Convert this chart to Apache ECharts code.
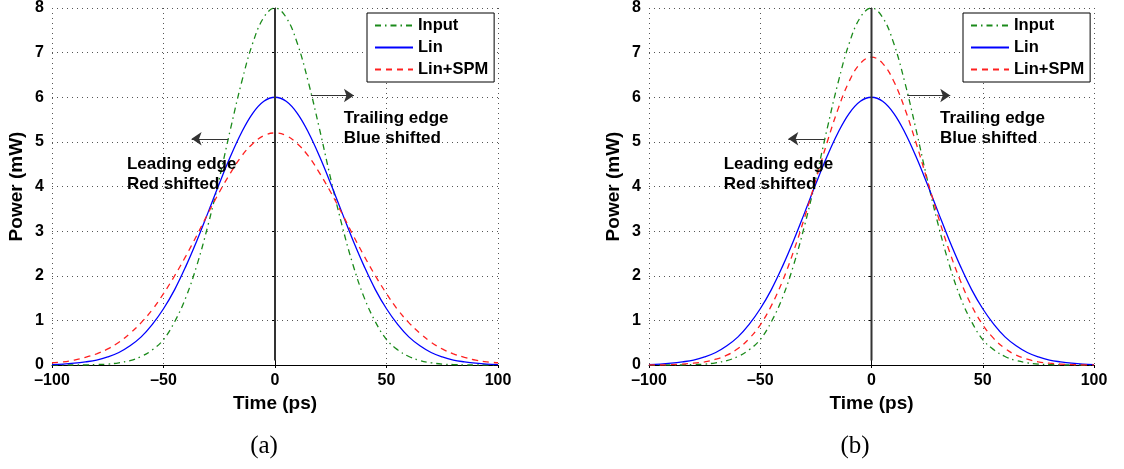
<!DOCTYPE html>
<html><head><meta charset="utf-8">
<script src="https://cdn.jsdelivr.net/npm/echarts@6/dist/echarts.min.js"></script>
<style>html,body{margin:0;padding:0;background:#fff}#c{width:1124px;height:469px}</style>
</head><body><div id="c"></div>
<script>
// ---- data ----
const times = [-100,-95,-90,-85,-80,-75,-70,-65,-60,-55,-50,-45,-40,-35,-30,-25,-20,-15,-10,-5,0,5,10,15,20,25,30,35,40,45,50,55,60,65,70,75,80,85,90,95,100];
const inputPower = [0.00,0.00,0.00,0.00,0.01,0.02,0.05,0.10,0.19,0.34,0.57,0.97,1.51,2.24,3.14,4.17,5.28,6.33,7.21,7.79,8.00,7.79,7.21,6.33,5.28,4.17,3.14,2.24,1.51,0.97,0.57,0.34,0.19,0.10,0.05,0.02,0.01,0.00,0.00,0.00,0.00];
const linPower = [0.01,0.02,0.04,0.07,0.11,0.18,0.28,0.43,0.63,0.91,1.26,1.69,2.21,2.79,3.42,4.06,4.67,5.21,5.64,5.91,6.00,5.91,5.64,5.21,4.67,4.06,3.42,2.79,2.21,1.69,1.26,0.91,0.63,0.43,0.28,0.18,0.11,0.07,0.04,0.02,0.01];
const spmPowerA = [0.05,0.07,0.11,0.17,0.25,0.36,0.51,0.71,0.95,1.24,1.60,2.00,2.44,2.91,3.40,3.87,4.30,4.68,4.96,5.14,5.20,5.14,4.96,4.68,4.30,3.87,3.40,2.91,2.44,2.00,1.60,1.24,0.95,0.71,0.51,0.36,0.25,0.17,0.11,0.07,0.05];
const spmPowerB = [0.00,0.00,0.01,0.02,0.04,0.07,0.13,0.22,0.37,0.59,0.90,1.33,1.88,2.55,3.32,4.15,4.98,5.74,6.36,6.76,6.90,6.76,6.36,5.74,4.98,4.15,3.32,2.55,1.88,1.33,0.90,0.59,0.37,0.22,0.13,0.07,0.04,0.02,0.01,0.00,0.00];
const seriesNames = ['Input','Lin','Lin+SPM'];
const centerLine = [[0,0.1],[0,8]];
const leadingText = 'Leading edge\nRed shifted';
const trailingText = 'Trailing edge\nBlue shifted';
const leadingPos = [-66.4, 4.28];
const trailingPos = [30.8, 5.30];
const leadingArrow = [[-21.0,5.07],[-37.4,5.07]];
const trailingArrow = [[16.1,6.04],[35.4,6.04]];
const captions = ['(a)','(b)'];
const xLabelTitle = 'Time (ps)';
const yLabelTitle = 'Power (mW)';

// ---- chart ----
const FONT = '"Liberation Sans", Arial, Helvetica, sans-serif';
const pairs = (ys) => times.map((t,i)=>[t, ys[i]]);
const chart = echarts.init(document.getElementById('c'), null, {renderer:'canvas'});

const grids = [
  {left:52, top:6, width:446, height:359},
  {left:649, top:6, width:445, height:359}
];
function xAxis(i){
  return {
    type:'value', gridIndex:i, min:-100, max:100, interval:50,
    name:xLabelTitle, nameLocation:'middle', nameGap:28,
    nameTextStyle:{fontFamily:FONT, fontWeight:'bold', fontSize:19, color:'#000'},
    axisLine:{onZero:false, lineStyle:{color:'#000', width:1}},
    axisTick:{show:true, length:3, lineStyle:{color:'#000'}},
    axisLabel:{margin:8, fontFamily:FONT, fontWeight:'bold', fontSize:16, color:'#000',
      formatter:(v)=> v<0 ? '\u2013'+Math.abs(v) : String(v)},
    splitLine:{show:true, lineStyle:{color:'#555', width:1, type:[1,4]}}
  };
}
function yAxis(i){
  return {
    type:'value', gridIndex:i, min:0, max:8, interval:1,
    name:yLabelTitle, nameLocation:'middle', nameGap:26,
    nameTextStyle:{fontFamily:FONT, fontWeight:'bold', fontSize:19, color:'#000'},
    axisLine:{show:true, lineStyle:{color:'#000', width:1}},
    axisTick:{show:true, length:3, lineStyle:{color:'#000'}},
    axisLabel:{margin:8, fontFamily:FONT, fontWeight:'bold', fontSize:16, color:'#000'},
    splitLine:{show:true, lineStyle:{color:'#555', width:1, type:[1,4]}}
  };
}
const styles = [
  {color:'#1a8a1a', type:[6,4,1.5,4]},
  {color:'#0000ff', type:'solid'},
  {color:'#ff2020', type:[6,5]}
];
function curves(i, spm){
  const vals = [inputPower, linPower, spm];
  const out = vals.map((v,k)=>({
    name:seriesNames[k], type:'line', xAxisIndex:i, yAxisIndex:i,
    data:pairs(v), symbol:'none', showSymbol:false, smooth:0.4, z:3+k,
    lineStyle:{color:styles[k].color, width:1.3, type:styles[k].type},
    itemStyle:{color:styles[k].color}
  }));
  out.push({
    name:'center', type:'line', xAxisIndex:i, yAxisIndex:i, data:centerLine,
    symbol:'none', lineStyle:{color:'#333', width:2}, z:6, silent:true
  });
  out.push({
    name:'notes', type:'scatter', xAxisIndex:i, yAxisIndex:i, silent:true,
    symbolSize:0.1, itemStyle:{color:'rgba(0,0,0,0)', opacity:1}, z:8,
    data:[{value:leadingPos, name:leadingText},{value:trailingPos, name:trailingText}],
    label:{show:true, position:[0,0], align:'left', verticalAlign:'middle', formatter:'{b}',
      fontFamily:FONT, fontWeight:'bold', fontSize:17, lineHeight:20, color:'#000', opacity:1},
    markLine:{silent:true, symbol:['none','arrow'], symbolSize:[10,10], animation:false,
      lineStyle:{color:'#333', width:1.2, type:'solid', opacity:1}, label:{show:false},
      data:[[{coord:leadingArrow[0]},{coord:leadingArrow[1]}],[{coord:trailingArrow[0]},{coord:trailingArrow[1]}]]}
  });
  return out;
}
function legend(left){
  return {
    data:seriesNames, orient:'vertical', left:left, top:13,
    backgroundColor:'#fff', borderColor:'#000', borderWidth:1, borderRadius:0,
    padding:[4,6,4,7], itemWidth:38, itemHeight:14, itemGap:5, selectedMode:false,
    itemStyle:{color:'rgba(0,0,0,0)', borderColor:'rgba(0,0,0,0)', borderWidth:0, opacity:0},
    textStyle:{fontFamily:FONT, fontWeight:'bold', fontSize:16.5, color:'#000', lineHeight:17}
  };
}
chart.setOption({
  animation:false,
  backgroundColor:'#fff',
  grid:grids,
  xAxis:[xAxis(0), xAxis(1)],
  yAxis:[yAxis(0), yAxis(1)],
  legend:[legend(367), legend(963)],
  series:[...curves(0, spmPowerA), ...curves(1, spmPowerB)],
  graphic:[
    {type:'text', x:264, y:446, style:{text:captions[0], align:'center', verticalAlign:'middle', font:'25px "Liberation Serif", "DejaVu Serif", serif', fill:'#000'}},
    {type:'text', x:855, y:446, style:{text:captions[1], align:'center', verticalAlign:'middle', font:'25px "Liberation Serif", "DejaVu Serif", serif', fill:'#000'}}
  ]
});
</script></body></html>
